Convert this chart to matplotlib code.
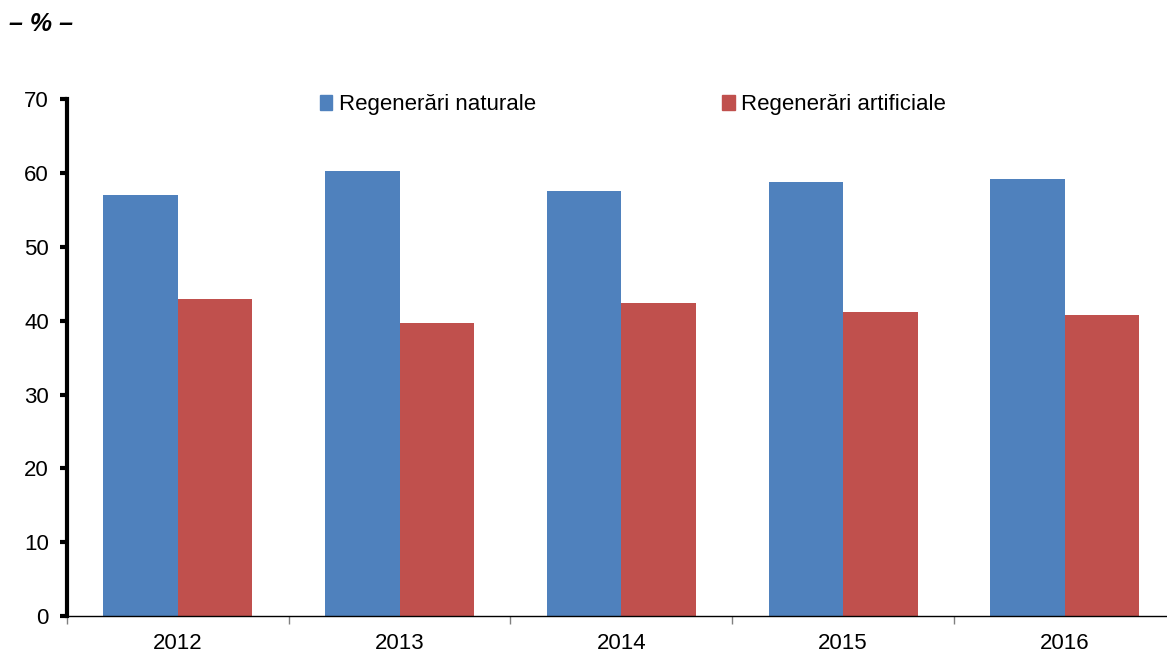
import matplotlib.pyplot as plt
import numpy as np
from matplotlib.patches import Patch

plt.rcParams['font.family'] = ['Liberation Sans', 'DejaVu Sans']

years = ['2012', '2013', '2014', '2015', '2016']
naturale = [57.0, 60.3, 57.6, 58.8, 59.2]
artificiale = [42.9, 39.7, 42.4, 41.2, 40.8]

blue = '#4f81bd'
red = '#c0504d'

fig = plt.figure(figsize=(11.67, 6.52), dpi=100)
ax = fig.add_axes([0.0574, 0.055, 0.950, 0.793])

x = np.arange(len(years))
w = 0.336
ax.bar(x - w / 2, naturale, w, color=blue)
ax.bar(x + w / 2, artificiale, w, color=red)

ax.set_xlim(-0.5, 4.5)
ax.set_ylim(0, 70)
ax.set_yticks(range(0, 71, 10))
ax.set_xticks(x)
ax.set_xticklabels(years)
ax.set_xticks(np.arange(-0.5, 5, 1), minor=True)
ax.tick_params(axis='x', which='major', length=0, pad=12, labelsize=16)
ax.tick_params(axis='x', which='minor', length=6, width=1, direction='out', color='#808080')
ax.tick_params(axis='y', length=5, width=3, direction='out', labelsize=16, pad=8)

for s in ['top', 'right']:
    ax.spines[s].set_visible(False)
ax.spines['left'].set_linewidth(3)
ax.spines['bottom'].set_linewidth(1)

handles = [Patch(color=blue), Patch(color=red)]
ax.legend(handles, ['Regenerări naturale', 'Regenerări artificiale'],
          ncol=2, frameon=False, fontsize=16, loc='upper left',
          bbox_to_anchor=(0.21, 1.048), handlelength=0.55, handleheight=0.7,
          handletextpad=0.3, columnspacing=8.4)

fig.text(0.008, 0.952, '– % –', fontsize=18, fontweight='bold', fontstyle='italic')

fig.savefig('out.png', dpi=100)
